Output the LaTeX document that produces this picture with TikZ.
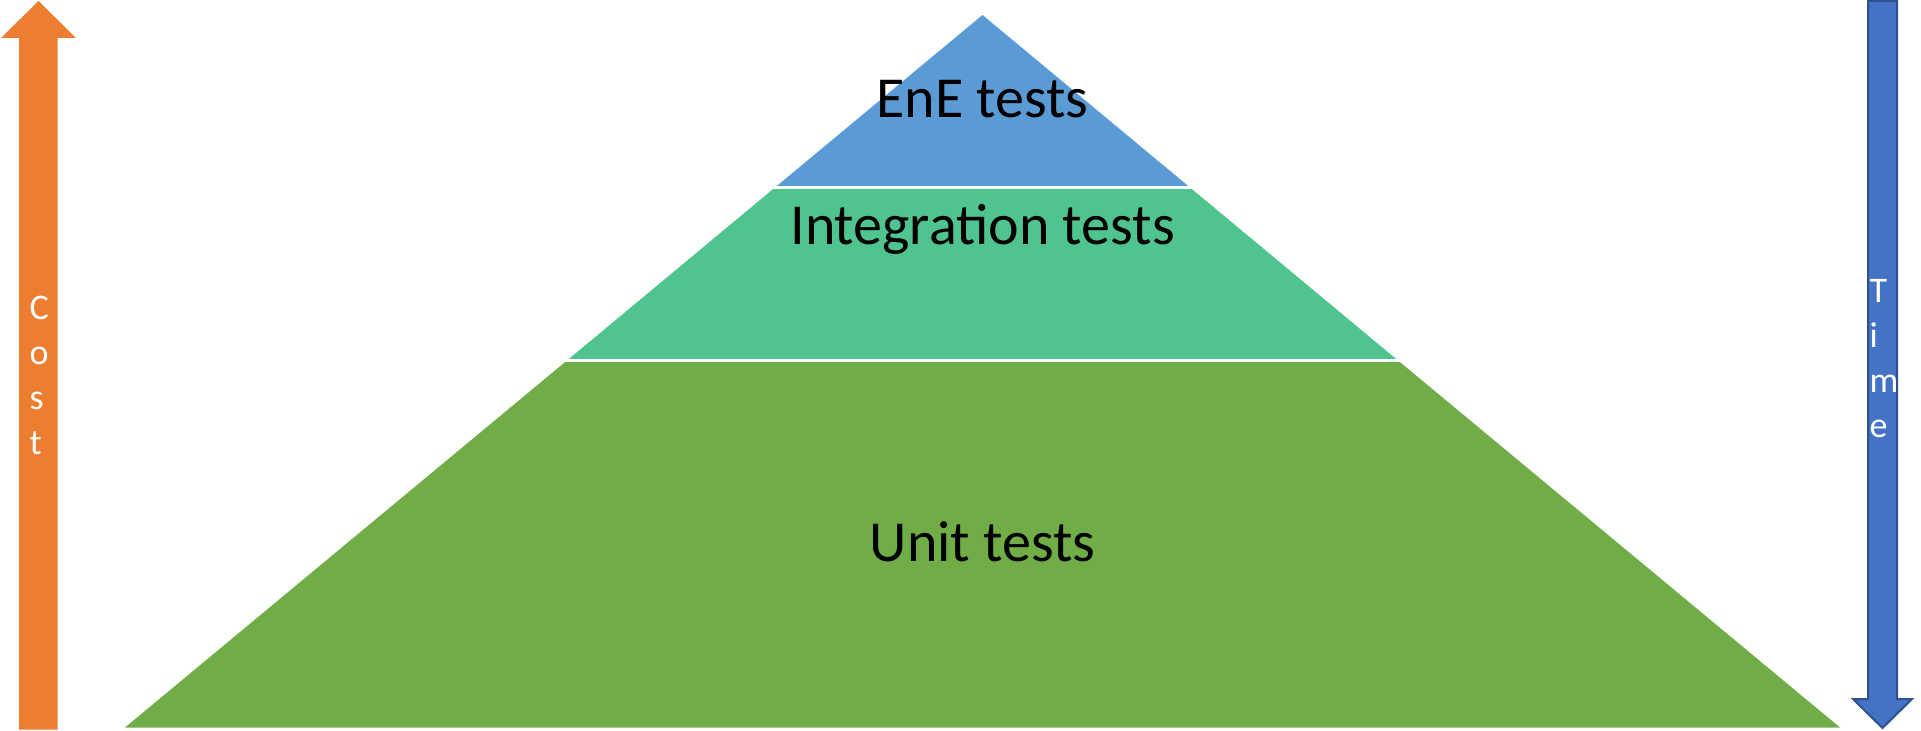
\documentclass[tikz,border=0pt]{standalone}
\usepackage{fontspec}
\setmainfont{Carlito}
\usepackage{tikz}
\definecolor{eneblue}{HTML}{5B9BD5}
\definecolor{integgreen}{HTML}{4FC48E}
\definecolor{unitgreen}{HTML}{70AD47}
\definecolor{costorange}{HTML}{ED7D31}
\definecolor{timeblue}{HTML}{4472C4}
\definecolor{timeline}{HTML}{2F528F}
\tikzstyle{layertext} = [font=\fontsize{16.5}{20}\selectfont, text=black, anchor=base, inner sep=0]
\tikzstyle{arrowtext} = [font=\fontsize{10.25}{12.8}\selectfont, text=white, align=left, anchor=north west, inner sep=0]
\tikzstyle{gapline} = [draw=white, line width=0.03cm]

\begin{document}
\begin{tikzpicture}[x=0.01cm, y=0.01cm]
\useasboundingbox (0,0) rectangle (1921,730);

% pyramid layers
\fill[unitgreen] (125,2.5) -- (1840,2.5) -- (1398,369.5) -- (567,369.5) -- cycle;
\fill[integgreen] (567,369.5) -- (1398,369.5) -- (1190,542.5) -- (775,542.5) -- cycle;
\fill[eneblue] (775,542.5) -- (1190,542.5) -- (982.5,715) -- cycle;
\draw[gapline] (540,369.5) -- (1430,369.5);
\draw[gapline] (750,542.5) -- (1220,542.5);

% side arrows
\fill[costorange] (19,0.5) -- (57.5,0.5) -- (57.5,692) -- (76,692) -- (38.5,729) -- (1,692) -- (19,692) -- cycle;
\filldraw[fill=timeblue, draw=timeline, line width=0.02cm] (1868,729) -- (1897,729) -- (1897,31) -- (1912,31) -- (1882.5,2) -- (1853,31) -- (1868,31) -- cycle;

\node (ene) [layertext] at (982.5,612) {EnE tests};
\node (integ) [layertext] at (982.5,485) {Integration tests};
\node (unit) [layertext] at (982.5,169) {Unit tests};
\node (cost) [arrowtext] at (29,435) {C\\o\\s\\t};
\node (time) [arrowtext] at (1869,451) {T\\i\\m\\e};

\end{tikzpicture}
\end{document}
